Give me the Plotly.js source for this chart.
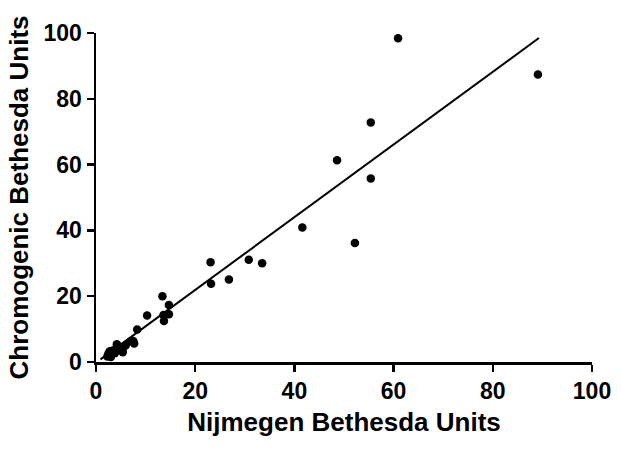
<!DOCTYPE html>
<html>
<head>
<meta charset="utf-8">
<script src="https://cdn.plot.ly/plotly-3.0.1.min.js"></script>
<style>
  html, body { margin: 0; padding: 0; background: #fff; }
  #chart { width: 621px; height: 450px; }
</style>
</head>
<body>
<div id="chart"></div>
<script>
// Nijmegen vs chromogenic Bethesda units
let nijmegen = [60.9, 89.1, 55.4, 48.6, 55.4, 52.2, 41.6, 30.8, 33.5, 23.1, 23.2, 26.8,
                13.4, 10.3, 13.6, 14.7, 13.7, 14.7, 8.3, 7.5, 7.7, 7.0, 6.0, 5.5,
                4.5, 4.2, 3.5, 2.8, 2.5, 2.3, 3.0, 3.8, 4.8, 5.4];
let chromogenic = [98.4, 87.4, 72.8, 61.3, 55.8, 36.2, 40.9, 31.1, 30.0, 30.3, 23.8, 25.1,
                   20.0, 14.1, 14.3, 17.3, 12.5, 14.5, 9.9, 6.4, 5.6, 6.3, 5.1, 4.4,
                   4.8, 5.4, 3.6, 3.3, 2.6, 1.7, 1.5, 2.7, 3.6, 3.0];

// linear regression line
let fitSlope = 1.105;
let fitIntercept = -0.2;
let fitRange = [0.9, 89.3];

let tickVals = [0, 20, 40, 60, 80, 100];

let fitX = fitRange;
let fitY = fitRange.map(function(x) { return fitSlope * x + fitIntercept; });

var fontFam = "Liberation Sans, Arial, sans-serif";

var data = [
  {
    x: fitX,
    y: fitY,
    mode: "lines",
    line: {color: "black", width: 2},
    hoverinfo: "skip"
  },
  {
    x: nijmegen,
    y: chromogenic,
    mode: "markers",
    marker: {color: "black", size: 8.5}
  }
];

var axisStyle = {
  range: [0, 100],
  tickvals: tickVals,
  ticks: "outside",
  ticklen: 7,
  tickwidth: 2.5,
  tickcolor: "black",
  showline: true,
  linecolor: "black",
  linewidth: 2.5,
  showgrid: false,
  zeroline: false,
  tickfont: {family: fontFam, size: 23, color: "black", weight: "bold"}
};

var layout = {
  width: 621,
  height: 450,
  showlegend: false,
  paper_bgcolor: "white",
  plot_bgcolor: "white",
  margin: {l: 96, r: 29, t: 33, b: 88},
  xaxis: Object.assign({}, axisStyle, {
    title: {text: "<b>Nijmegen Bethesda Units</b>", standoff: 10,
            font: {family: fontFam, size: 26, color: "black"}}
  }),
  yaxis: Object.assign({}, axisStyle, {
    title: {text: "<b>Chromogenic Bethesda Units</b>", standoff: 8,
            font: {family: fontFam, size: 26, color: "black"}}
  })
};

Plotly.newPlot("chart", data, layout, {displayModeBar: false, staticPlot: true});
</script>
</body>
</html>
